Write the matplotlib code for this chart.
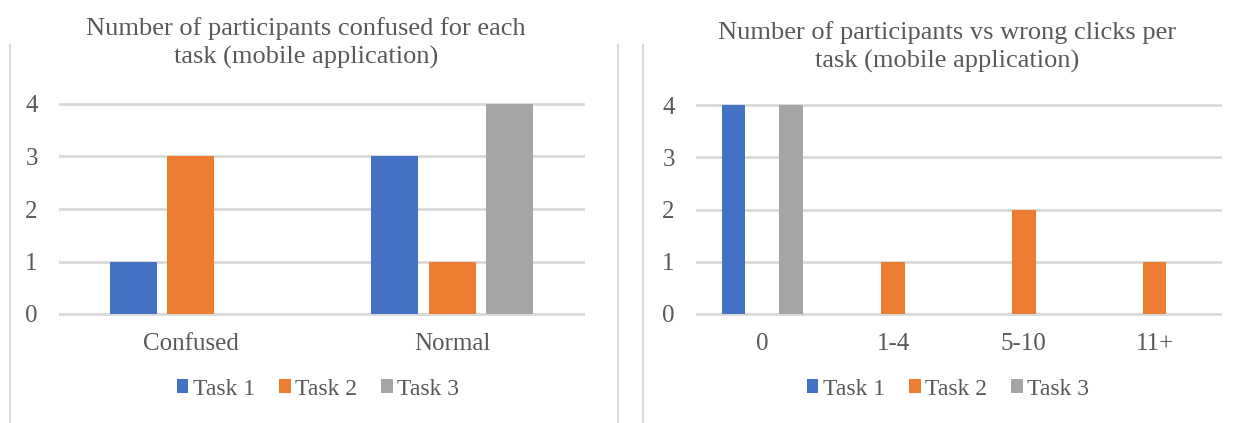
import matplotlib.pyplot as plt
from matplotlib.patches import Patch
from matplotlib.lines import Line2D
import numpy as np

plt.rcParams['font.family'] = ['Liberation Serif', 'DejaVu Serif']

# Series data
tasks = ['Task 1', 'Task 2', 'Task 3']
colors = ['#4472C4', '#ED7D31', '#A5A5A5']

confused_cats = ['Confused', 'Normal']
confused_vals = [[1, 3], [3, 1], [0, 4]]

clicks_cats = ['0', '1-4', '5-10', '11+']
clicks_vals = [[4, 0, 0, 0], [0, 1, 2, 1], [4, 0, 0, 0]]

titles = ['Number of participants confused for each\ntask (mobile application)',
          'Number of participants vs wrong clicks per\ntask (mobile application)']

W, H = 1238, 423
text_color = '#595959'
grid_color = '#D9D9D9'

fig = plt.figure(figsize=(W / 100, H / 100), dpi=100)


def px_axes(x0, x1, ytop, ybot):
    return fig.add_axes([x0 / W, 1 - ybot / H, (x1 - x0) / W, (ybot - ytop) / H])


def draw(ax, cats, vals):
    x = np.arange(len(cats))
    width, step = 0.18, 0.22
    for i, (v, c) in enumerate(zip(vals, colors)):
        ax.bar(x + (i - 1) * step, v, width, color=c, zorder=3)
    ax.set_xlim(-0.5, len(cats) - 0.5)
    ax.set_ylim(0, 4)
    ax.set_yticks(range(5))
    ax.set_xticks(x)
    ax.set_xticklabels(cats)
    for y in range(5):
        ax.axhline(y, color=grid_color, lw=2, zorder=1, clip_on=False)
    for s in ax.spines.values():
        s.set_visible(False)
    ax.tick_params(length=0, labelsize=18, labelcolor=text_color)
    ax.tick_params(axis='y', pad=16)
    ax.tick_params(axis='x', pad=14)


ax1 = px_axes(60, 583, 104, 314)
draw(ax1, confused_cats, confused_vals)
ax2 = px_axes(697, 1220, 105, 314)
draw(ax2, clicks_cats, clicks_vals)

fig.text(306 / W, 1 - 43 / H, titles[0], ha='center', va='center',
         fontsize=19, color=text_color, linespacing=1.38)
fig.text(947 / W, 1 - 47 / H, titles[1], ha='center', va='center',
         fontsize=19, color=text_color, linespacing=1.38)

handles = [Patch(facecolor=c, label=t) for t, c in zip(tasks, colors)]
for cx in (318, 948):
    fig.legend(handles=handles, loc='center', bbox_to_anchor=(cx / W, 1 - 389 / H),
               ncol=3, frameon=False, fontsize=17, labelcolor=text_color,
               handlelength=0.5, handleheight=0.5, handletextpad=0.2,
               columnspacing=1.0)

# chart borders
for xb in (10, 618, 643):
    fig.add_artist(Line2D([xb / W, xb / W], [0, 1 - 45 / H], color=grid_color, lw=1.5))

fig.savefig('out.png', dpi=100)
